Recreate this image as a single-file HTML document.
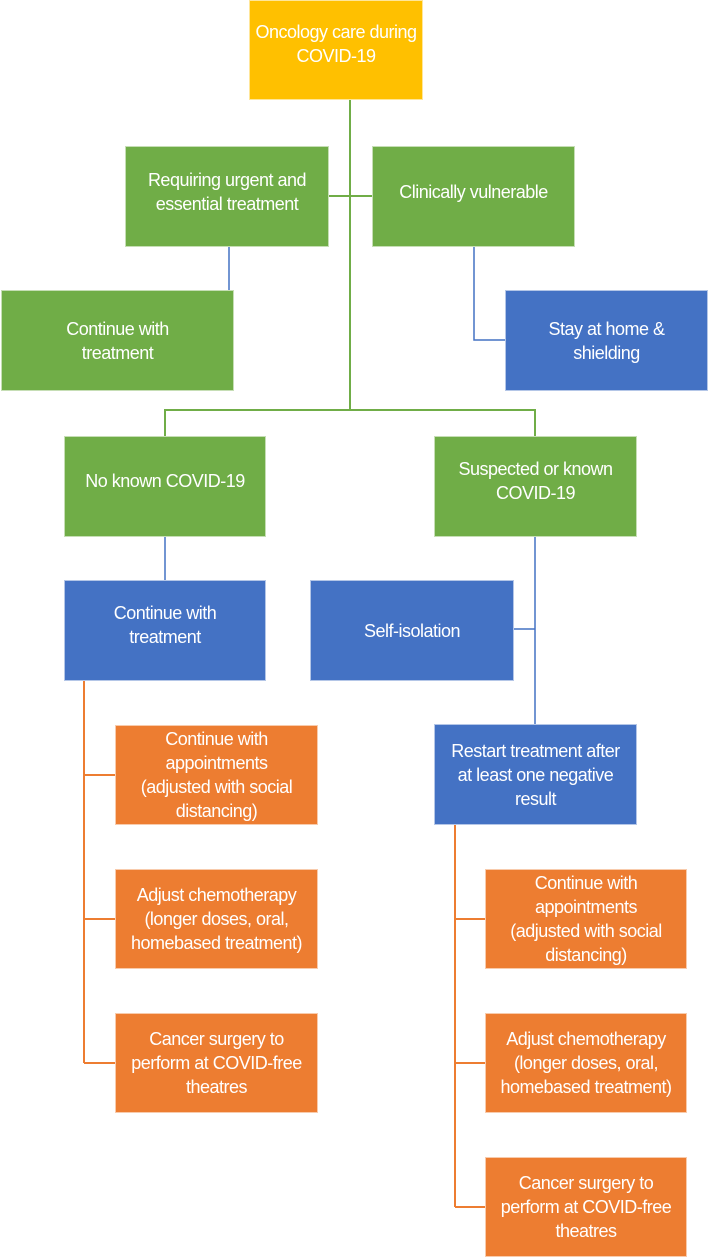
<!DOCTYPE html>
<html><head><style>
body{margin:0;width:709px;height:1260px;background:#fff;position:relative;overflow:hidden;font-family:"Liberation Sans",sans-serif;}
.b{position:absolute;display:flex;align-items:center;justify-content:center;text-align:center;color:#fff;font-size:18px;line-height:24px;box-sizing:border-box;border:1px solid rgba(255,255,255,.6);letter-spacing:-0.5px;white-space:nowrap}
.g{background:#70AD47}.bl{background:#4472C4}.o{background:#ED7D31}.y{background:#FFC000}
svg{position:absolute;left:0;top:0}
</style></head><body>
<svg width="709" height="1260">
<g stroke="#70AD47" stroke-width="2" fill="none">
<path d="M350 100V410M329 196H372M165 436V410H535V436"/>
</g>
<g stroke="#4472C4" stroke-width="1.5" fill="none">
<path d="M229 246V340H233M474 246V340H505M165 536V580M535 536V724M513 629H535"/>
</g>
<g stroke="#ED7D31" stroke-width="2" fill="none">
<path d="M84 680V1063M84 775H115M84 919H115M84 1063H115M455 824V1207M455 919H485M455 1063H485M455 1207H485"/>
</g>
</svg>
<div class="b y" style="left:249px;top:0;width:174px;height:100px;padding-bottom:12px">Oncology care during<br>COVID-19</div>
<div class="b g" style="left:125px;top:146px;width:204px;height:101px;padding-bottom:10px">Requiring urgent and<br>essential treatment</div>
<div class="b g" style="left:372px;top:146px;width:203px;height:101px;padding-bottom:10px">Clinically vulnerable</div>
<div class="b g" style="left:1px;top:290px;width:233px;height:101px">Continue with<br>treatment</div>
<div class="b bl" style="left:505px;top:290px;width:203px;height:101px">Stay at home &amp;<br>shielding</div>
<div class="b g" style="left:64px;top:436px;width:202px;height:101px;padding-bottom:12px">No known COVID-19</div>
<div class="b g" style="left:434px;top:436px;width:203px;height:101px;padding-bottom:12px">Suspected or known<br>COVID-19</div>
<div class="b bl" style="left:64px;top:580px;width:202px;height:101px;padding-bottom:12px">Continue with<br>treatment</div>
<div class="b bl" style="left:310px;top:580px;width:204px;height:101px">Self-isolation</div>
<div class="b bl" style="left:434px;top:724px;width:203px;height:101px">Restart treatment after<br>at least one negative<br>result</div>
<div class="b o" style="left:115px;top:725px;width:203px;height:100px">Continue with<br>appointments<br>(adjusted with social<br>distancing)</div>
<div class="b o" style="left:115px;top:869px;width:203px;height:100px">Adjust chemotherapy<br>(longer doses, oral,<br>homebased treatment)</div>
<div class="b o" style="left:115px;top:1013px;width:203px;height:100px">Cancer surgery to<br>perform at COVID-free<br>theatres</div>
<div class="b o" style="left:485px;top:869px;width:202px;height:100px">Continue with<br>appointments<br>(adjusted with social<br>distancing)</div>
<div class="b o" style="left:485px;top:1013px;width:202px;height:100px">Adjust chemotherapy<br>(longer doses, oral,<br>homebased treatment)</div>
<div class="b o" style="left:485px;top:1157px;width:202px;height:100px">Cancer surgery to<br>perform at COVID-free<br>theatres</div>
</body></html>
